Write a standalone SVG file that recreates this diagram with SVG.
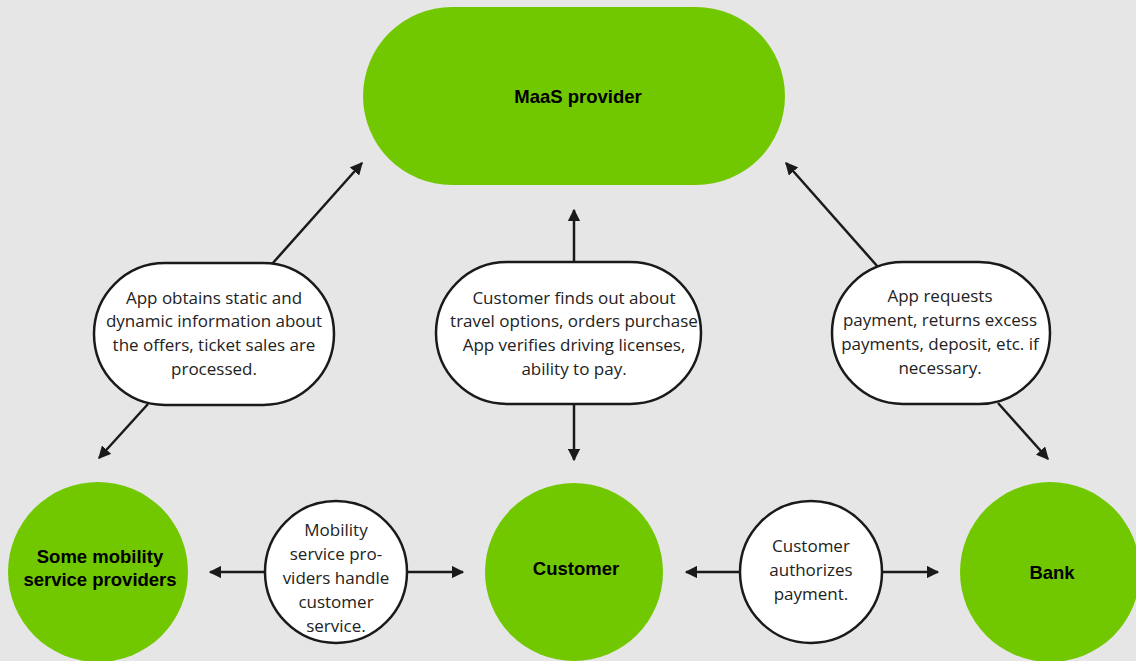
<svg xmlns="http://www.w3.org/2000/svg" width="1136" height="661" viewBox="0 0 1136 661">
<style>
.bg{fill:#e6e6e6}
.node{fill:#72c800}
.bub{fill:#ffffff;stroke:#1a1a1a;stroke-width:2.5}
.title{font-family:"Liberation Sans Narrow","Liberation Sans",sans-serif;font-weight:bold;font-size:18.5px;fill:#000;text-anchor:middle;dominant-baseline:central}
.lbl{font-family:"Open Sans","Noto Sans",sans-serif;font-size:17px;fill:#222;text-anchor:middle;dominant-baseline:central}
.con{stroke:#1a1a1a;stroke-width:2.5;fill:none;marker-end:url(#ah)}
</style>
<defs>
<marker id="ah" viewBox="0 0 10 10" refX="9" refY="5" markerWidth="5" markerHeight="5" orient="auto" markerUnits="strokeWidth">
<path d="M0,0 L10,5 L0,10 z" fill="#1a1a1a"/>
</marker>
</defs>
<rect class="bg" x="0" y="0" width="1136" height="661"/>
<g id="connectors">
<line class="con" x1="272" y1="264" x2="362" y2="163"/>
<line class="con" x1="148" y1="404" x2="99" y2="458"/>
<line class="con" x1="574" y1="262" x2="574" y2="210"/>
<line class="con" x1="574" y1="404" x2="574" y2="460"/>
<line class="con" x1="878" y1="267" x2="786" y2="163"/>
<line class="con" x1="998" y1="403" x2="1048" y2="459"/>
<line class="con" x1="265" y1="572" x2="210" y2="572"/>
<line class="con" x1="408" y1="572" x2="463" y2="572"/>
<line class="con" x1="740" y1="572" x2="686" y2="572"/>
<line class="con" x1="883" y1="572" x2="938" y2="572"/>
</g>
<g id="maas">
<rect class="node" x="363" y="7" width="422" height="178" rx="89"/>
<text class="title" x="578" y="96">MaaS provider</text>
</g>
<g id="mobility">
<circle class="node" cx="98" cy="572" r="90"/>
<text class="title" x="100" y="556">Some mobility</text>
<text class="title" x="100" y="579">service providers</text>
</g>
<g id="customer">
<circle class="node" cx="574" cy="572" r="89"/>
<text class="title" x="576" y="568">Customer</text>
</g>
<g id="bank">
<circle class="node" cx="1050" cy="572" r="90"/>
<text class="title" x="1052" y="572">Bank</text>
</g>
<g id="label-left">
<rect class="bub" x="94" y="263" width="240" height="142" rx="71"/>
<text class="lbl" x="214" y="297">App obtains static and</text>
<text class="lbl" x="214" y="320">dynamic information about</text>
<text class="lbl" x="214" y="344">the offers, ticket sales are</text>
<text class="lbl" x="214" y="368">processed.</text>
</g>
<g id="label-center">
<rect class="bub" x="436" y="262" width="265" height="142" rx="71"/>
<text class="lbl" x="574" y="297">Customer finds out about</text>
<text class="lbl" x="574" y="320">travel options, orders purchase</text>
<text class="lbl" x="574" y="344">App verifies driving licenses,</text>
<text class="lbl" x="574" y="368">ability to pay.</text>
</g>
<g id="label-right">
<rect class="bub" x="832" y="262" width="218" height="142" rx="71"/>
<text class="lbl" x="940" y="295">App requests</text>
<text class="lbl" x="940" y="319">payment, returns excess</text>
<text class="lbl" x="940" y="343">payments, deposit, etc. if</text>
<text class="lbl" x="940" y="367">necessary.</text>
</g>
<g id="label-mobility">
<circle class="bub" cx="336" cy="572" r="71"/>
<text class="lbl" x="336" y="529">Mobility</text>
<text class="lbl" x="336" y="553">service pro-</text>
<text class="lbl" x="336" y="577">viders handle</text>
<text class="lbl" x="336" y="601">customer</text>
<text class="lbl" x="336" y="625">service.</text>
</g>
<g id="label-payment">
<circle class="bub" cx="811" cy="572" r="71"/>
<text class="lbl" x="811" y="545">Customer</text>
<text class="lbl" x="811" y="569">authorizes</text>
<text class="lbl" x="811" y="593">payment.</text>
</g>
</svg>
